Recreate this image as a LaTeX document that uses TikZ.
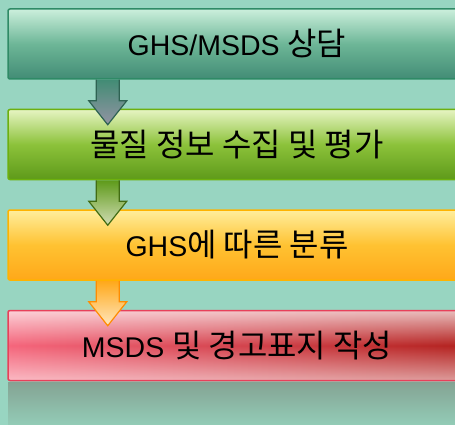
\documentclass[tikz,border=0pt]{standalone}
\usepackage{fontspec}
\setmainfont{Liberation Sans}
\newfontfamily\hangul[Scale=1.12]{Noto Sans CJK KR}
\usetikzlibrary{fadings,calc}

\definecolor{bgteal}{HTML}{98D5C1}
\definecolor{refltop}{HTML}{84A393}
\definecolor{reflbot}{HTML}{93CCB7}
\definecolor{tealtop}{HTML}{CBEFDC}
\definecolor{tealmid}{HTML}{6DB697}
\definecolor{tealbot}{HTML}{428C75}
\definecolor{tealline}{HTML}{2F8A66}
\definecolor{greentop}{HTML}{E6F4C2}
\definecolor{greenmid}{HTML}{8CC23A}
\definecolor{greenbot}{HTML}{5E9A1A}
\definecolor{greenline}{HTML}{6DB00E}
\definecolor{oratop}{HTML}{FFEE9C}
\definecolor{oramid}{HTML}{FFC232}
\definecolor{orabot}{HTML}{FFA819}
\definecolor{oraline}{HTML}{FFB300}
\definecolor{redleft}{HTML}{F5667C}
\definecolor{redright}{HTML}{B3221F}
\definecolor{redline}{HTML}{E8405A}

\tikzfading[name=gloss, top color=transparent!30, bottom color=transparent!45, middle color=transparent!100]

\begin{document}
\begin{tikzpicture}[x=1pt,y=-1pt,
    box/.style={rectangle, rounded corners=2pt, minimum width=458pt, minimum height=70pt,
      line width=1.5pt, inner sep=0pt, text=black, font=\fontsize{28.5}{32}\selectfont},
    blockarrow/.style={line width=1.2pt, line join=miter}]

  \useasboundingbox (0,0) rectangle (455,425);
  \clip (0,0) rectangle (455,425);
  \fill[bgteal] (0,0) rectangle (455,425);

  % reflection under the last box
  \shade[top color=refltop, bottom color=reflbot] (8,382) rectangle (466,425);

  \node[box, draw=tealline, top color=tealtop, bottom color=tealbot, middle color=tealmid] (b1) at (237,44) {GHS/MSDS {\hangul 상담}};
  \node[box, draw=greenline, top color=greentop, bottom color=greenbot, middle color=greenmid] (b2) at (237,144.5) {\hangul 물질 정보 수집 및 평가};
  \node[box, draw=oraline, top color=oratop, bottom color=orabot, middle color=oramid] (b3) at (237,245) {GHS{\hangul 에 따른 분류}};
  \node[box, draw=redline, left color=redleft, right color=redright,
    path picture={\fill[white, path fading=gloss] (path picture bounding box.north west) rectangle (path picture bounding box.south east);}] (b4) at (237,345.5) {MSDS {\hangul 및 경고표지 작성}};

  \draw[blockarrow, draw=black!30!tealbot, top color=tealbot, bottom color=black!5!white!80!blue!30!gray]
    ($(b1.south west)+(89,0)$) -- ++(0,21) -- ++(-7.5,0) -- ++(19,24) -- ++(19,-24) -- ++(-7.5,0) -- ++(0,-21);
  \draw[blockarrow, draw=black!30!greenbot, top color=greenbot, bottom color=greentop!80!gray]
    ($(b2.south west)+(89,0)$) -- ++(0,21) -- ++(-7.5,0) -- ++(19,24) -- ++(19,-24) -- ++(-7.5,0) -- ++(0,-21);
  \draw[blockarrow, draw=orange!90!yellow, top color=orabot, bottom color=oratop!60!orange!40!white]
    ($(b3.south west)+(89,0)$) -- ++(0,21) -- ++(-7.5,0) -- ++(19,24) -- ++(19,-24) -- ++(-7.5,0) -- ++(0,-21);

\end{tikzpicture}
\end{document}
